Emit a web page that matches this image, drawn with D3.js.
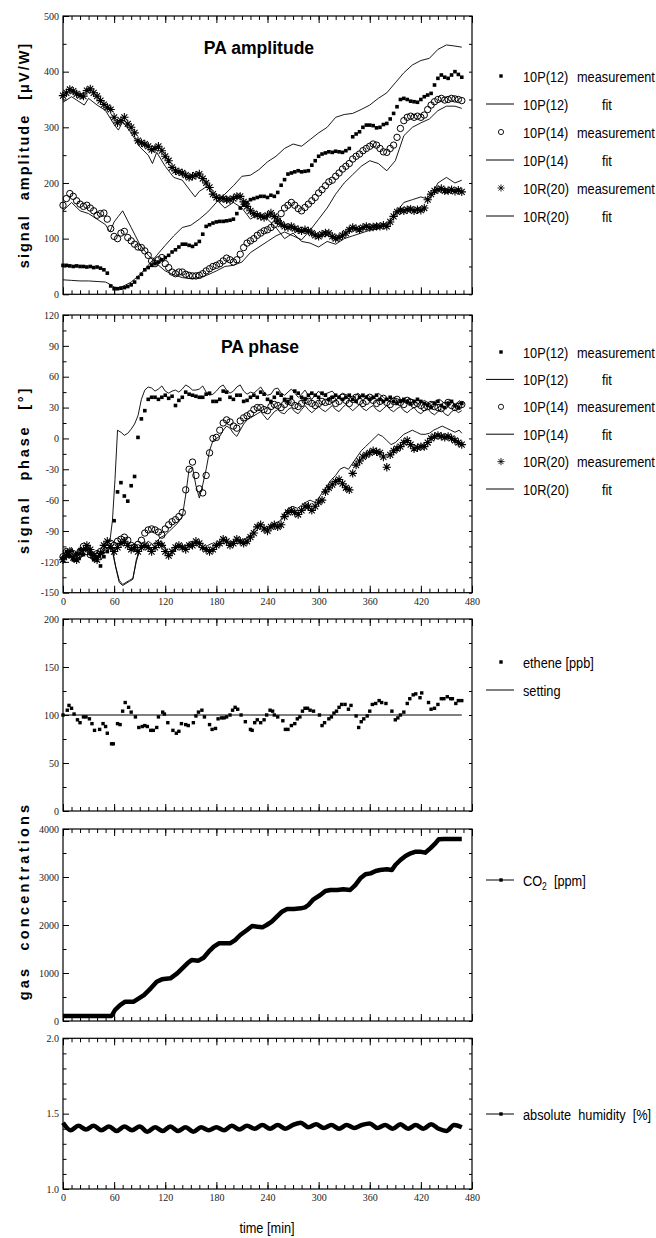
<!DOCTYPE html>
<html>
<head>
<meta charset="utf-8">
<script src="https://cdn.jsdelivr.net/npm/d3@7"></script>
<style>
  body { margin: 0; background: #fff; }
</style>
</head>
<body>
<script>
// time grid (min) used by the measured series of the two PA panels
const t4 = [0,4,8,12,16,20,24,28,32,36,40,44,48,52,56,60,64,68,72,76,80,84,88,92,96,100,104,108,112,116,
  120,124,128,132,136,140,144,148,152,156,160,164,168,172,176,180,184,188,192,196,200,204,208,212,216,220,224,228,232,236,
  240,244,248,252,256,260,264,268,272,276,280,284,288,292,296,300,304,308,312,316,320,324,328,332,336,340,344,348,352,356,
  360,364,368,372,376,380,384,388,392,396,400,404,408,412,416,420,424,428,432,436,440,444,448,452,456,460,464,468];

// PA amplitude [uV/W]
const ampP12Meas = [52,52,51,50,51,50,50,49,50,48, 49,47,44,38,15,10,10,11,12,14, 17,22,30,36,44,48,52,55,58,62,
  66,70,76,80,85,90,90,88,86,90, 95,108,122,125,128,130,131,131,132,133, 135,145,155,160,165,170,172,174,176,176,
  174,178,176,183,196,206,216,218,220,222, 220,221,222,232,240,248,252,254,256,255, 257,256,255,258,262,283,288,292,300,304,
  304,303,299,300,305,307,315,325,337,350, 352,350,347,346,345,350,355,358,361,376, 388,394,390,388,394,400,395,390];
const ampP14Meas = [160,172,181,176,168,162,158,160,155,150, 142,145,146,135,118,104,100,110,113,102, 96,90,85,84,78,70,60,55,62,66,
  55,48,40,37,40,40,36,34,33,33, 34,37,42,46,50,52,55,60,65,62, 58,62,72,84,92,96,100,106,110,114,
  116,120,125,132,145,155,160,165,160,154, 150,156,162,168,174,182,188,195,202,205, 212,218,225,230,235,243,248,252,258,262,
  266,270,268,262,256,255,262,268,282,298, 312,318,320,318,320,318,322,332,340,346, 350,352,349,350,352,351,350,348];
const ampR20Meas = [357,362,368,365,360,357,356,366,369,362, 356,348,341,336,332,318,308,312,318,306, 300,290,276,272,270,266,260,262,266,258,
  248,240,228,222,220,218,214,210,212,214, 216,208,200,192,180,174,172,172,170,170, 172,176,176,166,158,150,145,142,140,138,
  142,146,140,132,126,122,120,122,118,116, 114,116,114,110,106,104,108,110,110,104, 100,102,106,110,116,120,118,116,120,122,
  120,121,122,122,124,122,130,140,148,151, 150,152,153,150,152,151,155,170,180,186, 188,190,186,186,188,185,187,184];

const ampP12Fit = [[0,26],[10,25],[20,24],[30,24],[40,23],[50,22],[55,18],[60,13],[65,12],[70,14],[80,22],[90,35],[100,52],
  [110,70],[120,88],[130,105],[140,120],[150,124],[160,135],[170,148],[180,165],[190,180],[200,195],[210,212],[220,214],
  [230,224],[240,238],[250,248],[260,262],[270,270],[280,266],[290,278],[300,290],[310,300],[320,318],[330,323],[340,325],
  [350,332],[360,340],[370,352],[380,362],[390,380],[400,398],[410,412],[420,420],[430,424],[440,440],[450,448],[460,446],[468,444]];
const ampP14Fit = [[0,150],[10,165],[20,150],[30,145],[40,135],[50,125],[55,112],[60,130],[65,140],[70,150],[75,135],[80,120],
  [85,105],[90,90],[100,70],[110,55],[120,42],[130,35],[140,30],[150,28],[160,30],[170,35],[180,42],[190,50],[200,52],[210,58],
  [220,75],[230,85],[240,95],[250,105],[260,112],[270,105],[280,98],[290,115],[300,135],[310,155],[320,180],[330,200],[340,215],
  [350,230],[360,240],[370,235],[380,222],[390,240],[400,285],[410,300],[420,308],[430,315],[440,330],[450,338],[460,338],[468,334]];
const ampR20Fit = [[0,345],[10,355],[20,345],[25,340],[30,352],[40,340],[50,330],[60,305],[65,295],[70,310],[80,290],[90,265],
  [100,250],[105,235],[110,255],[120,230],[130,210],[140,205],[150,185],[155,175],[160,185],[170,195],[180,170],[190,155],
  [200,165],[210,155],[220,135],[230,145],[240,135],[250,120],[260,100],[270,110],[280,95],[290,92],[300,85],[310,95],[320,90],
  [330,100],[340,105],[350,110],[360,115],[370,118],[380,125],[390,145],[400,165],[410,170],[420,175],[430,170],[440,200],
  [450,210],[460,200],[468,205]];

// PA phase [deg]
const phP12Meas = [-116,-110,-114,-118,-112,-108,-113,-108,-112,-118, -116,-124,-115,-110,-106,-80,-52,-43,-56,-61,
  -46,-37,1,19,27,38,40,40,38,40, 42,39,41,32,37,40,45,43,42,41, 40,40,43,44,36,36,38,46,45,40,
  38,42,42,36,37,40,42,40,45,43, 38,36,40,44,42,38,36,40,46,44, 40,38,42,44,42,40,44,42,38,40,
  42,40,38,40,42,38,36,40,42,40, 38,40,42,38,36,38,40,36,34,36, 38,36,34,36,38,36,34,32,30,34, 36,32,30,34,36,32,30,34];
const phP14Meas = [-115,-110,-113,-112,-116,-110,-105,-110,-113,-115, -112,-110,-108,-104,-102,-104,-100,-98,-96,-99,
  -104,-106,-103,-99,-92,-89,-88,-89,-91,-94, -88,-84,-81,-79,-76,-72,-50,-30,-23,-36, -49,-53,-36,-14,0,1,8,15,18,16,
  12,10,17,20,22,24,28,30,30,28, 27,31,33,32,30,33,36,35,32,31, 34,37,36,34,32,34,36,35,36,38,
  34,36,40,37,34,38,40,36,34,36, 40,37,34,36,39,35,33,36,38,35, 33,37,35,33,34,32,30,31,33,31, 30,29,32,35,32,30,31,33];
const phR20Meas = [-118,-114,-110,-116,-118,-112,-108,-104,-108,-114, -118,-112,-104,-100,-106,-110,-106,-102,-100,-104,
  -108,-106,-110,-106,-104,-106,-110,-106,-102,-104, -110,-114,-110,-106,-104,-106,-108,-104,-104,-100,
  -102,-106,-108,-110,-108,-104,-102,-98,-100,-104, -102,-98,-100,-102,-100,-96,-92,-86,-84,-88,
  -90,-86,-84,-86,-84,-76,-72,-70,-72,-74, -70,-66,-66,-70,-66,-62,-60,-52,-48,-45, -42,-40,-44,-48,-50,-34,-26,-22,-18,-16,
  -14,-12,-13,-14,-18,-28,-16,-12,-10,-8, -4,-2,-6,-10,-9,-8,-8,-4,0,2, 3,2,1,2,0,-2,-4,-6];

const phP12Fit = [[0,-110],[5,-114],[10,-106],[15,-115],[20,-110],[25,-106],[30,-112],[35,-116],[40,-110],[45,-118],[50,-104],
  [55,-100],[58,-80],[61,-40],[64,8],[68,6],[72,3],[76,5],[80,9],[84,14],[88,22],[92,38],[96,47],[100,50],[104,49],[108,46],
  [112,48],[116,51],[120,46],[124,44],[128,46],[132,47],[136,45],[140,48],[144,52],[148,50],[152,47],[156,47],[160,48],[164,51],
  [168,45],[172,42],[176,43],[180,46],[184,50],[188,52],[192,47],[196,44],[200,46],[204,50],[208,52],[212,46],[216,43],[220,45],
  [224,44],[228,47],[232,50],[236,45],[240,42],[244,43],[248,48],[252,49],[256,44],[260,42],[264,45],[268,48],[272,44],[276,40],
  [280,43],[284,47],[288,42],[292,38],[296,42],[300,46],[304,42],[310,44],[316,46],[322,40],[328,44],[334,42],[340,38],[346,44],
  [352,40],[358,42],[364,38],[370,44],[376,40],[382,36],[388,40],[394,38],[400,35],[406,39],[412,37],[418,33],[424,37],[430,34],
  [436,36],[442,38],[448,34],[454,37],[460,33],[466,37]];
const phP14Fit = [[0,-118],[5,-112],[10,-116],[15,-112],[20,-118],[25,-108],[30,-106],[35,-114],[40,-118],[45,-112],[50,-108],
  [55,-104],[58,-108],[62,-125],[66,-138],[70,-142],[74,-140],[78,-138],[82,-136],[86,-120],[90,-108],[95,-104],[100,-100],
  [105,-103],[110,-100],[115,-96],[120,-94],[125,-90],[130,-86],[135,-82],[140,-76],[144,-55],[148,-30],[152,-28],[156,-46],
  [160,-58],[164,-45],[168,-30],[172,-12],[176,-2],[180,0],[184,2],[188,8],[192,12],[196,10],[200,5],[204,2],[208,8],[212,14],
  [216,18],[220,20],[224,22],[228,24],[232,26],[236,22],[240,18],[244,22],[248,26],[252,28],[256,25],[260,24],[264,28],[268,30],
  [272,26],[276,24],[280,28],[284,32],[288,28],[292,25],[296,28],[300,31],[304,28],[308,26],[312,29],[316,32],[320,28],[324,26],
  [328,30],[332,33],[336,30],[340,27],[344,30],[348,33],[352,29],[356,27],[360,30],[364,32],[368,28],[372,26],[376,29],[380,32],
  [384,28],[388,26],[392,29],[396,31],[400,27],[404,25],[408,28],[412,30],[416,26],[420,24],[424,27],[428,29],[432,25],[436,23],
  [440,26],[444,28],[448,24],[452,22],[456,26],[460,28],[464,25],[468,27]];
const phR20Fit = [[0,-112],[5,-116],[10,-108],[15,-114],[20,-118],[25,-106],[30,-104],[35,-112],[40,-116],[45,-110],[50,-104],
  [55,-104],[58,-110],[62,-126],[66,-140],[70,-143],[74,-141],[78,-139],[82,-137],[86,-118],[90,-108],[95,-104],[100,-106],
  [105,-108],[110,-104],[115,-100],[120,-106],[125,-114],[130,-110],[135,-104],[140,-106],[145,-104],[150,-100],[155,-102],
  [160,-106],[165,-108],[170,-104],[175,-102],[180,-106],[185,-100],[190,-98],[195,-102],[200,-100],[205,-98],[210,-100],
  [215,-97],[220,-94],[225,-88],[230,-84],[235,-86],[240,-88],[245,-84],[250,-82],[255,-80],[260,-72],[265,-68],[270,-66],
  [275,-68],[280,-65],[285,-62],[290,-60],[295,-62],[300,-58],[305,-52],[310,-46],[315,-40],[320,-36],[325,-30],[330,-28],
  [335,-30],[340,-24],[345,-18],[350,-12],[355,-8],[360,-4],[365,0],[370,4],[375,2],[380,-2],[385,-6],[390,-4],[395,0],
  [400,4],[405,6],[410,8],[415,6],[420,4],[425,4],[430,5],[435,8],[440,10],[445,12],[450,10],[455,8],[460,6],[465,8],[468,5]];

// ethene [ppb]
const ethene = [[0,100],[5,105],[7,110],[10,107],[13,101],[17,95],[20,92],[24,98],[27,98],[31,96],[34,91],[37,84],[43,85],
  [47,91],[50,88],[52,81],[57,70],[59,70],[64,91],[67,90],[70,104],[73,113],[77,108],[80,103],[85,98],[89,87],[93,88],[96,89],
  [99,88],[103,84],[106,84],[110,87],[112,98],[117,103],[119,101],[123,92],[129,84],[133,81],[136,83],[139,91],[144,90],[147,89],
  [153,92],[156,99],[159,103],[163,105],[166,98],[172,90],[175,85],[179,86],[182,96],[186,97],[189,97],[192,98],[196,100],
  [199,105],[202,108],[205,106],[209,100],[214,93],[220,85],[222,84],[225,92],[228,95],[232,92],[236,95],[239,100],[243,105],
  [246,104],[248,100],[252,98],[258,94],[261,85],[264,85],[268,89],[272,91],[275,96],[278,98],[281,104],[284,107],[287,107],
  [290,105],[294,104],[301,100],[304,89],[307,92],[312,96],[315,98],[318,102],[321,104],[324,108],[327,111],[331,111],[335,106],
  [338,110],[344,99],[347,87],[350,93],[353,96],[357,99],[360,104],[363,111],[367,112],[371,115],[374,113],[379,112],[386,104],
  [390,95],[393,97],[396,100],[400,103],[404,112],[407,117],[411,121],[414,122],[419,118],[421,123],[429,113],[432,106],
  [436,107],[440,111],[444,117],[447,117],[451,119],[455,117],[457,117],[461,112],[464,115],[468,115]];
const etheneSetting = [[0,100],[468,100]];

// CO2 [ppm]
const co2 = [[0,104],[20,104],[40,104],[57,104],[61,229],[67,333],[73,403],[83,403],[89,472],[95,541],[103,680],[110,819],
  [116,868],[126,889],[134,993],[140,1097],[146,1201],[151,1271],[159,1257],[165,1319],[171,1444],[177,1549],[183,1618],
  [189,1618],[196,1618],[202,1687],[208,1792],[216,1896],[222,1979],[228,1965],[234,1951],[239,2000],[245,2069],[251,2174],
  [257,2278],[263,2333],[271,2333],[279,2347],[284,2368],[288,2417],[294,2535],[302,2625],[308,2708],[314,2729],[322,2729],
  [329,2743],[337,2729],[343,2833],[349,2972],[355,3056],[361,3076],[367,3125],[372,3146],[380,3160],[386,3146],[390,3250],
  [396,3354],[402,3438],[408,3493],[414,3528],[419,3528],[425,3507],[431,3597],[437,3701],[441,3785],[447,3792],[468,3792]];

// absolute humidity [%]
const humidity = [[0,1.44],[9,1.39],[18,1.42],[27,1.395],[36,1.42],[45,1.39],[54,1.415],[63,1.385],[72,1.415],[81,1.39],
  [90,1.415],[99,1.38],[108,1.41],[117,1.385],[126,1.415],[135,1.385],[144,1.41],[153,1.38],[162,1.41],[171,1.39],[180,1.41],
  [189,1.39],[198,1.42],[207,1.395],[216,1.42],[225,1.40],[234,1.425],[243,1.40],[252,1.425],[261,1.40],[270,1.425],[279,1.44],
  [288,1.41],[297,1.43],[306,1.405],[315,1.425],[324,1.40],[333,1.425],[342,1.405],[351,1.425],[360,1.435],[369,1.405],
  [378,1.425],[387,1.40],[396,1.43],[405,1.40],[414,1.425],[423,1.40],[432,1.43],[441,1.40],[450,1.385],[459,1.425],[468,1.41]];

const W = 656, H = 1238;
const svg = d3.select("body").append("svg").attr("width", W).attr("height", H);

const x = d3.scaleLinear().domain([0, 480]).range([63, 472]);
const xMajor = d3.range(0, 481, 60);
const xMinor = d3.range(0, 481, 10);
const SERIF = "'Liberation Serif', 'Times New Roman', serif";
const SANS = "'Liberation Sans', Arial, sans-serif";

function noDomain(s) { s.select(".domain").remove(); }

// one framed panel, ticks pointing inwards like the original
function panel(p) {
  const y = d3.scaleLinear().domain(p.domain).range([p.bottom, p.top]);
  const g = svg.append("g");
  const [L, R] = x.range();

  g.append("g").attr("transform", `translate(${L},0)`)
    .call(d3.axisLeft(y).tickValues(p.minor).tickSize(-3.5).tickFormat("")).call(noDomain);
  g.append("g").attr("transform", `translate(${L},0)`)
    .call(d3.axisLeft(y).tickValues(p.major).tickSize(-6).tickPadding(4).tickFormat(p.fmt)).call(noDomain);
  g.append("g").attr("transform", `translate(${R},0)`)
    .call(d3.axisRight(y).tickValues(p.minor.concat(p.major)).tickSize(-3).tickFormat("")).call(noDomain);

  g.append("g").attr("transform", `translate(0,${p.top})`)
    .call(d3.axisTop(x).tickValues(xMinor).tickSize(-4).tickFormat("")).call(noDomain);
  g.append("g").attr("transform", `translate(0,${p.top})`)
    .call(d3.axisTop(x).tickValues(xMajor).tickSize(-7).tickFormat("")).call(noDomain);
  g.append("g").attr("transform", `translate(0,${p.bottom})`)
    .call(d3.axisBottom(x).tickValues(xMinor).tickSize(-4).tickFormat("")).call(noDomain);
  g.append("g").attr("transform", `translate(0,${p.bottom})`)
    .call(d3.axisBottom(x).tickValues(xMajor).tickSize(-7).tickPadding(5)
      .tickFormat(p.xLabels ? (d => String(d)) : "")).call(noDomain);

  g.selectAll(".tick line").attr("stroke", "#000").attr("stroke-width", 1);
  g.selectAll(".tick text").attr("font-family", SERIF).attr("font-size", 10).attr("fill", "#222");

  g.append("rect").attr("x", L).attr("y", p.top).attr("width", R - L).attr("height", p.bottom - p.top)
    .attr("fill", "none").attr("stroke", "#000").attr("stroke-width", 1.2);

  const plot = svg.append("g");
  return { y, plot };
}

function seq(vals) { return t4.map((t, i) => [t, vals[i]]); }

function drawLine(P, data, w, curve) {
  P.plot.append("path").datum(data)
    .attr("fill", "none").attr("stroke", "#000").attr("stroke-width", w)
    .attr("stroke-linejoin", "round")
    .attr("d", d3.line().x(d => x(d[0])).y(d => P.y(d[1])).curve(curve || d3.curveLinear));
}
function drawSquares(P, data, s) {
  P.plot.append("g").selectAll("rect").data(data).join("rect")
    .attr("x", d => x(d[0]) - s / 2).attr("y", d => P.y(d[1]) - s / 2)
    .attr("width", s).attr("height", s).attr("fill", "#000");
}
function drawCircles(P, data, r) {
  P.plot.append("g").selectAll("circle").data(data).join("circle")
    .attr("cx", d => x(d[0])).attr("cy", d => P.y(d[1])).attr("r", r)
    .attr("fill", "none").attr("stroke", "#000").attr("stroke-width", 1);
}
const STAR = (r => { const a = r * 0.7071;
  return `M${-r},0L${r},0M0,${-r}L0,${r}M${-a},${-a}L${a},${a}M${-a},${a}L${a},${-a}`; })(4.2);
function drawStars(P, data) {
  P.plot.append("g").selectAll("path").data(data).join("path")
    .attr("transform", d => `translate(${x(d[0])},${P.y(d[1])})`)
    .attr("d", STAR).attr("fill", "none").attr("stroke", "#000").attr("stroke-width", 1.1);
}

// narrow sans text (Arial Narrow look)
function ntext(str, px, py, size, opts) {
  const o = opts || {};
  const t = svg.append("text")
    .attr("transform", `translate(${px},${py}) scale(${o.sx || 0.85},1)`)
    .attr("font-family", SANS).attr("font-size", size).attr("fill", "#000")
    .attr("font-weight", o.bold ? "bold" : "normal")
    .attr("text-anchor", o.anchor || "start");
  return t.text(str);
}

// ---- panel 1: amplitude
const P1 = panel({ top: 16, bottom: 294.3, domain: [0, 500], major: d3.range(0, 501, 100),
  minor: d3.range(50, 500, 100), fmt: d => String(d) });
drawLine(P1, ampP12Fit, 0.9);
drawLine(P1, ampP14Fit, 0.9);
drawLine(P1, ampR20Fit, 0.9);
drawSquares(P1, seq(ampP12Meas), 3.6);
drawCircles(P1, seq(ampP14Meas), 3.2);
drawStars(P1, seq(ampR20Meas));

// ---- panel 2: phase
const P2 = panel({ top: 315, bottom: 592.7, domain: [-150, 120], major: d3.range(-150, 121, 30),
  minor: d3.range(-135, 120, 30), fmt: d => String(d), xLabels: true });
drawLine(P2, phP12Fit, 0.9);
drawLine(P2, phP14Fit, 0.9);
drawLine(P2, phR20Fit, 0.9);
drawSquares(P2, seq(phP12Meas), 3.6);
drawCircles(P2, seq(phP14Meas), 3.2);
drawStars(P2, seq(phR20Meas));

// ---- panel 3: ethene
const P3 = panel({ top: 619, bottom: 811, domain: [0, 200], major: d3.range(0, 201, 50),
  minor: d3.range(25, 200, 50), fmt: d => String(d) });
drawLine(P3, etheneSetting, 1);
drawSquares(P3, ethene, 3.4);

// ---- panel 4: CO2
const P4 = panel({ top: 829, bottom: 1021, domain: [0, 4000], major: d3.range(0, 4001, 1000),
  minor: d3.range(500, 4000, 1000), fmt: d => String(d) });
drawLine(P4, co2, 4.5);

// ---- panel 5: humidity
const P5 = panel({ top: 1038.3, bottom: 1189, domain: [1, 2], major: [1, 1.5, 2],
  minor: [1.1, 1.2, 1.3, 1.4, 1.6, 1.7, 1.8, 1.9], fmt: d3.format(".1f"), xLabels: true });
drawLine(P5, humidity, 4.5, d3.curveMonotoneX);

// ---- titles
ntext("PA amplitude", 259, 54, 18.5, { bold: true, anchor: "middle", sx: 0.95 });
ntext("PA phase", 260, 353, 18.5, { bold: true, anchor: "middle", sx: 0.95 });

function ytitle(str, cy, ls) {
  svg.append("text").attr("transform", `translate(29,${cy}) rotate(-90)`)
    .attr("text-anchor", "middle").attr("font-family", SANS).attr("font-weight", "bold")
    .attr("font-size", 14.5).attr("letter-spacing", ls).attr("word-spacing", 8).text(str);
}
ytitle("signal amplitude [\u03bcV/W]", 155, 2);
ytitle("signal phase [\u00b0]", 470, 2.8);
ytitle("gas concentrations", 901, 3.2);

ntext("time [min]", 267, 1233, 15, { anchor: "middle" });

// ---- legends
const LX = 501, LL = 486, LR = 514, TX = 523;
function legLine(yc) {
  svg.append("line").attr("x1", LL).attr("x2", LR).attr("y1", yc).attr("y2", yc)
    .attr("stroke", "#000").attr("stroke-width", 1);
}
function legSquare(yc, s) {
  svg.append("rect").attr("x", LX - s / 2).attr("y", yc - s / 2).attr("width", s).attr("height", s).attr("fill", "#000");
}
const paLegend = [
  ["10P(12)", "measurement", "square"], ["10P(12)", "fit", "line"],
  ["10P(14)", "measurement", "circle"], ["10P(14)", "fit", "line"],
  ["10R(20)", "measurement", "star"], ["10R(20)", "fit", "line"]];
[[76, 28], [352, 27.4]].forEach(([y0, dy]) => {
  paLegend.forEach((it, i) => {
    const yc = y0 + i * dy;
    if (it[2] === "line") legLine(yc);
    if (it[2] === "square") legSquare(yc, 3.4);
    if (it[2] === "circle") svg.append("circle").attr("cx", LX).attr("cy", yc).attr("r", 2.6)
      .attr("fill", "none").attr("stroke", "#000").attr("stroke-width", 0.9);
    if (it[2] === "star") svg.append("path").attr("transform", `translate(${LX},${yc}) scale(0.85)`).attr("d", STAR)
      .attr("fill", "none").attr("stroke", "#000").attr("stroke-width", 1);
    ntext(it[0], TX, yc + 5.5, 15);
    ntext(it[1], it[1] === "fit" ? 602 : 577, yc + 5.5, 15);
  });
});

legSquare(662, 3.4);
ntext("ethene [ppb]", TX, 667.5, 15);
legLine(690);
ntext("setting", TX, 695.5, 15);

legLine(880); legSquare(880, 3.4);
const co2t = ntext("CO", TX, 885.5, 15);
co2t.append("tspan").attr("font-size", 10).attr("dy", 4).text("2");
co2t.append("tspan").attr("dy", -4).text("  [ppm]").attr("xml:space", "preserve");

legLine(1114); legSquare(1114, 3.4);
ntext("absolute  humidity  [%]", TX, 1119.5, 15).attr("xml:space", "preserve");
</script>
</body>
</html>
